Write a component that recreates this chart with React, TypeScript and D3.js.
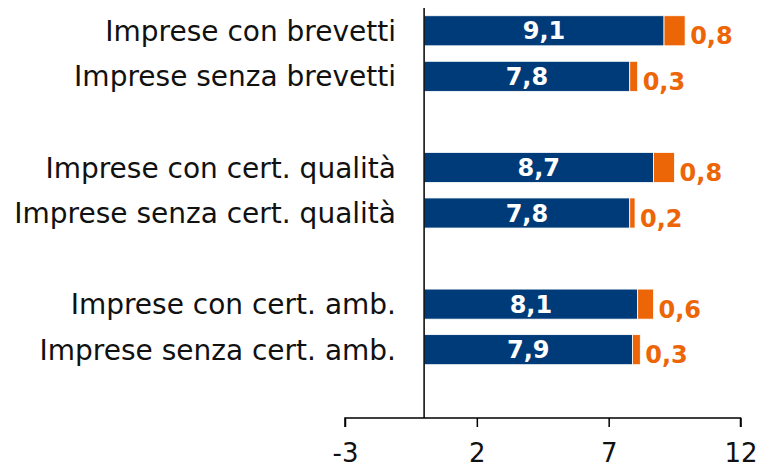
import React, { useEffect, useRef } from "react";
import * as d3 from "d3";

// categories (blank strings are spacer rows between groups)
const categories = [
  "Imprese con brevetti",
  "Imprese senza brevetti",
  "",
  "Imprese con cert. qualità",
  "Imprese senza cert. qualità",
  " ",
  "Imprese con cert. amb.",
  "Imprese senza cert. amb.",
  "  ",
];
const baseValues = [9.1, 7.8, null, 8.7, 7.8, null, 8.1, 7.9, null];
const extraValues = [0.8, 0.3, null, 0.8, 0.2, null, 0.6, 0.3, null];
const xTicks = [-3, 2, 7, 12];

const blue = "#003B79";
const orange = "#EC6608";
const labelFont = "'DejaVu Sans', sans-serif";
const valueFont = "'DejaVu Sans', sans-serif";

const fmt = (v: number) => v.toFixed(1).replace(".", ",");

export default function App() {
  const ref = useRef<SVGSVGElement>(null);

  useEffect(() => {
    const width = 760;
    const height = 469;
    const margin = { top: 8, left: 345, right: 19.5, bottom: 51 };

    const svg = d3.select(ref.current).attr("width", width).attr("height", height);
    svg.selectAll("*").remove();

    const xScale = d3.scaleLinear().domain([-3, 12]).range([margin.left, width - margin.right]);
    const yScale = d3
      .scaleBand()
      .domain(categories)
      .range([margin.top, height - margin.bottom])
      .paddingInner(0.34)
      .paddingOuter(0.17);

    var rows = categories
      .map((c, i) => ({ c, base: baseValues[i], extra: extraValues[i] }))
      .filter((d) => d.base !== null) as { c: string; base: number; extra: number }[];

    // category labels
    svg.selectAll(".cat")
      .data(rows)
      .join("text")
      .attr("class", "cat")
      .attr("x", 396)
      .attr("y", (d) => yScale(d.c)! + yScale.bandwidth() / 2)
      .attr("dy", "0.36em")
      .attr("text-anchor", "end")
      .attr("font-family", labelFont)
      .attr("font-size", 28)
      .attr("fill", "#111")
      .text((d) => d.c);

    // blue bars
    svg.selectAll(".base")
      .data(rows)
      .join("rect")
      .attr("class", "base")
      .attr("x", xScale(0))
      .attr("y", (d) => yScale(d.c)!)
      .attr("width", (d) => xScale(d.base) - xScale(0))
      .attr("height", yScale.bandwidth())
      .attr("fill", blue)
      .attr("stroke", "#fff")
      .attr("stroke-width", 0.8);

    // orange bars
    svg.selectAll(".extra")
      .data(rows)
      .join("rect")
      .attr("class", "extra")
      .attr("x", (d) => xScale(d.base))
      .attr("y", (d) => yScale(d.c)!)
      .attr("width", (d) => xScale(d.base + d.extra) - xScale(d.base))
      .attr("height", yScale.bandwidth())
      .attr("fill", orange)
      .attr("stroke", "#fff")
      .attr("stroke-width", 0.8);

    // value labels
    svg.selectAll(".baseLabel")
      .data(rows)
      .join("text")
      .attr("class", "baseLabel")
      .attr("x", (d) => (xScale(0) + xScale(d.base)) / 2)
      .attr("y", (d) => yScale(d.c)! + yScale.bandwidth() / 2)
      .attr("dy", "0.36em")
      .attr("text-anchor", "middle")
      .attr("font-family", valueFont)
      .attr("font-weight", "bold")
      .attr("font-size", 24)
      .attr("fill", "#fff")
      .text((d) => fmt(d.base));

    svg.selectAll(".extraLabel")
      .data(rows)
      .join("text")
      .attr("class", "extraLabel")
      .attr("x", (d) => xScale(d.base + d.extra) + 5)
      .attr("y", (d) => yScale(d.c)! + yScale.bandwidth() / 2 + 5)
      .attr("dy", "0.36em")
      .attr("text-anchor", "start")
      .attr("font-family", valueFont)
      .attr("font-weight", "bold")
      .attr("font-size", 24)
      .attr("fill", orange)
      .text((d) => fmt(d.extra));

    // zero line
    svg.append("line")
      .attr("x1", xScale(0))
      .attr("x2", xScale(0))
      .attr("y1", margin.top)
      .attr("y2", height - margin.bottom)
      .attr("stroke", "#000")
      .attr("stroke-width", 1.5);

    // x axis
    const axis = svg.append("g")
      .attr("transform", `translate(0, ${height - margin.bottom})`)
      .call(d3.axisBottom(xScale).tickValues(xTicks).tickSize(9).tickPadding(17).tickFormat((d) => String(d)));
    axis.select(".domain").attr("stroke", "#000").attr("stroke-width", 1.5).attr("d", `M${xScale(-3)},9V0H${xScale(12)}V9`);
    axis.selectAll(".tick line").attr("stroke", "#000").attr("stroke-width", 1.5);
    axis.selectAll(".tick text")
      .attr("font-family", labelFont)
      .attr("font-size", 26)
      .attr("fill", "#111");
  }, []);

  return (
    <div style={{ position: "absolute", left: 0, top: 0 }}>
      <svg ref={ref} style={{ display: "block" }}></svg>
    </div>
  );
}
